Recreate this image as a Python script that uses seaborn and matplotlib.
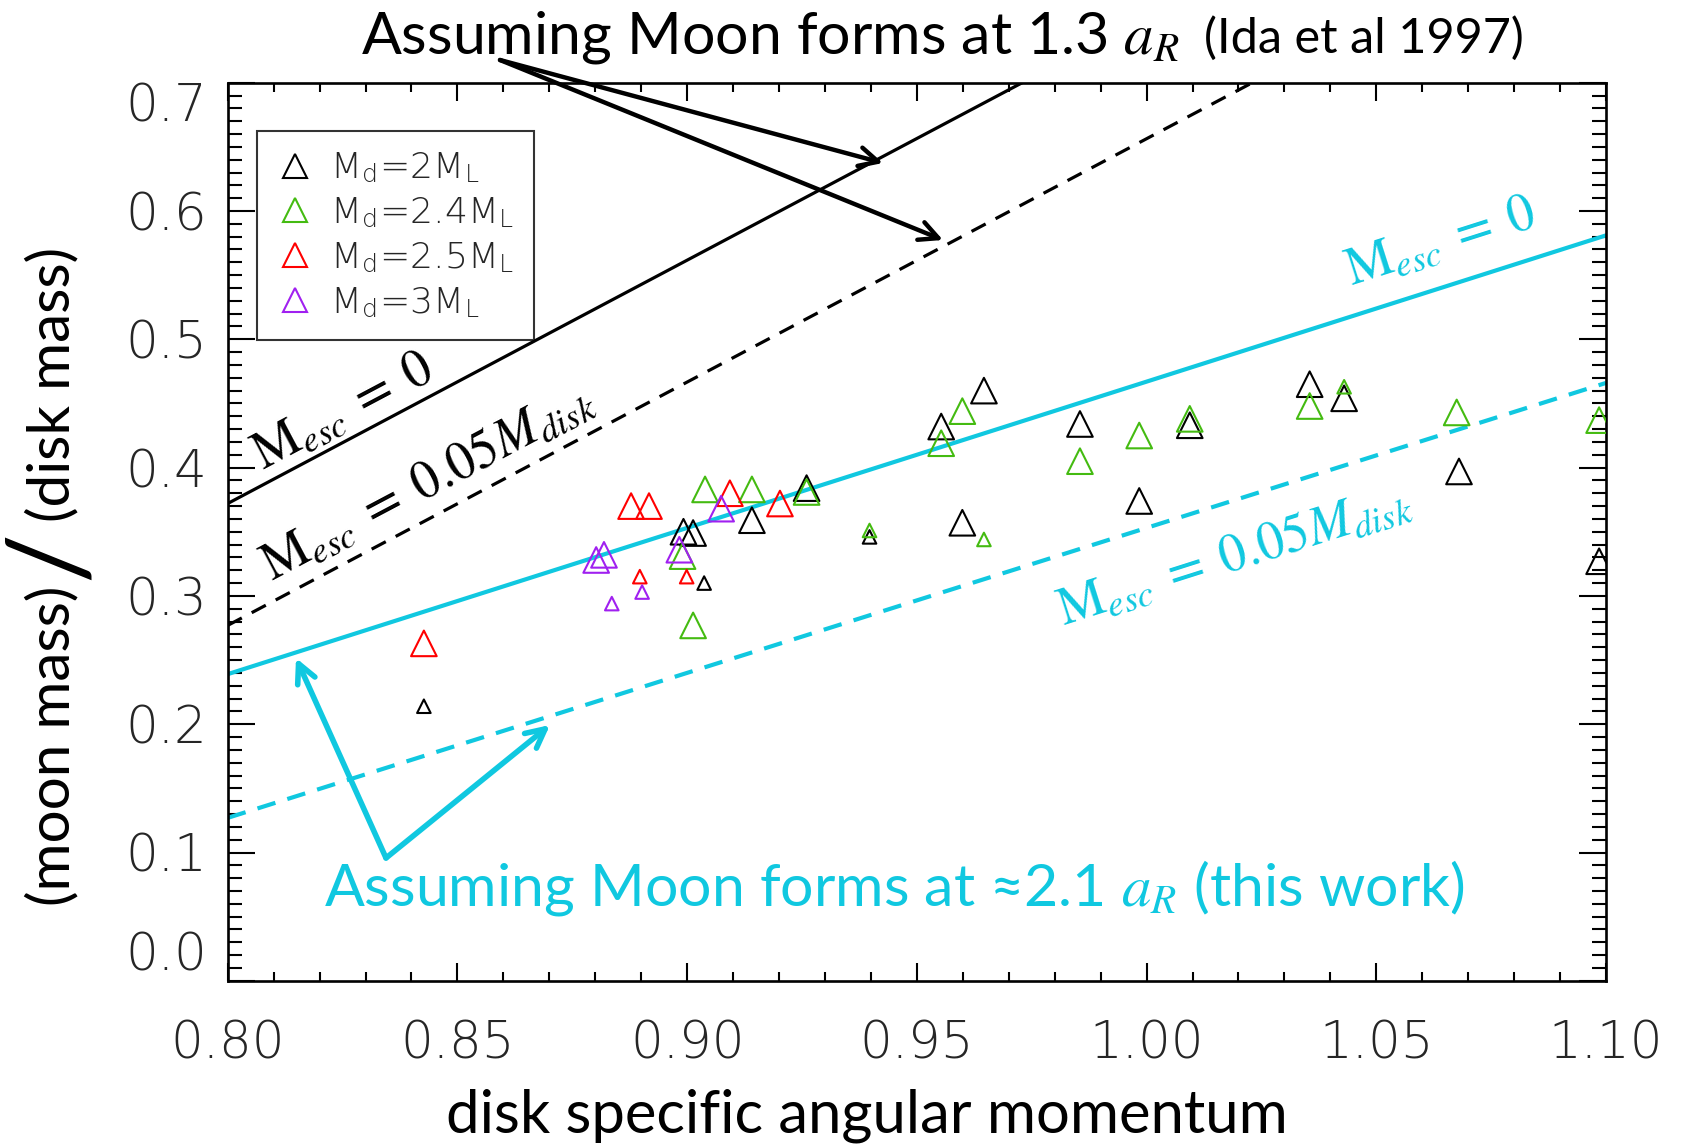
import numpy as np
import pandas as pd
import matplotlib
matplotlib.use("Agg")
import matplotlib.pyplot as plt
from matplotlib.lines import Line2D
from matplotlib.ticker import MultipleLocator
import seaborn as sns

# ---------------- data ----------------
groups = ["2ML", "2.4ML", "2.5ML", "3ML"]
legend_labels = [r"M$_{\mathregular{d}}$=2M$_{\mathregular{L}}$",
                 r"M$_{\mathregular{d}}$=2.4M$_{\mathregular{L}}$",
                 r"M$_{\mathregular{d}}$=2.5M$_{\mathregular{L}}$",
                 r"M$_{\mathregular{d}}$=3M$_{\mathregular{L}}$"]
group_colors = ["#000000", "#44BB11", "#FF0000", "#A020F0"]

x_2ML = [0.8992, 0.9013, 0.9141, 0.9260, 0.9553, 0.9599, 0.9646, 0.9855, 0.9984,
         1.0094, 1.0355, 1.0430, 1.0680, 1.0985, 0.8427, 0.9037, 0.9397]
y_2ML = [0.350, 0.349, 0.359, 0.384, 0.432, 0.357, 0.460, 0.434, 0.374,
         0.433, 0.465, 0.454, 0.397, 0.327, 0.214, 0.310, 0.346]
s_2ML = ["large", "large", "large", "large", "large", "large", "large", "large", "large",
         "large", "large", "large", "large", "large", "small", "small", "small"]

x_24ML = [0.8990, 0.9013, 0.9039, 0.9141, 0.9260, 0.9553, 0.9599, 0.9855, 0.9984,
          1.0094, 1.0355, 1.0675, 1.0985, 0.9397, 0.9646, 1.0430]
y_24ML = [0.331, 0.277, 0.383, 0.383, 0.381, 0.419, 0.444, 0.405, 0.425,
          0.438, 0.448, 0.443, 0.437, 0.351, 0.344, 0.463]
s_24ML = ["large", "large", "large", "large", "large", "large", "large", "large", "large",
          "large", "large", "large", "large", "small", "small", "small"]

x_25ML = [0.8427, 0.8878, 0.8917, 0.9093, 0.9202, 0.8897, 0.8999]
y_25ML = [0.263, 0.370, 0.370, 0.380, 0.372, 0.315, 0.315]
s_25ML = ["large", "large", "large", "large", "large", "small", "small"]

x_3ML = [0.8802, 0.8819, 0.8983, 0.9074, 0.8836, 0.8902]
y_3ML = [0.328, 0.332, 0.336, 0.368, 0.294, 0.303]
s_3ML = ["large", "large", "large", "large", "small", "small"]

# model lines (values at x = 0.80 and x = 1.10)
line_x = [0.80, 1.10]
ida_mesc0 = [0.372, 0.941]
ida_mesc005 = [0.277, 0.846]
this_mesc0 = [0.239, 0.581]
this_mesc005 = [0.127, 0.466]

xticks = [0.80, 0.85, 0.90, 0.95, 1.00, 1.05, 1.10]
xticklabels = ["0.80", "0.85", "0.90", "0.95", "1.00", "1.05", "1.10"]
yticks = [0.0, 0.1, 0.2, 0.3, 0.4, 0.5, 0.6, 0.7]
yticklabels = ["0.0", "0.1", "0.2", "0.3", "0.4", "0.5", "0.6", "0.7"]

# ---------------- style ----------------
sns.set_style("ticks")
plt.rcParams["font.family"] = ["Lato", "DejaVu Sans"]
plt.rcParams["mathtext.fontset"] = "stix"

CYAN = "#10C8E0"
W, H = 1682, 1146
fig = plt.figure(figsize=(W / 100, H / 100), dpi=100)
ax = fig.add_axes([227.7 / W, 1 - 980.8 / H, (1606 - 227.7) / W, (980.8 - 82.7) / H])

df = pd.concat([
    pd.DataFrame({"j": x_2ML, "r": y_2ML, "group": "2ML", "size": s_2ML}),
    pd.DataFrame({"j": x_24ML, "r": y_24ML, "group": "2.4ML", "size": s_24ML}),
    pd.DataFrame({"j": x_25ML, "r": y_25ML, "group": "2.5ML", "size": s_25ML}),
    pd.DataFrame({"j": x_3ML, "r": y_3ML, "group": "3ML", "size": s_3ML}),
], ignore_index=True)

# lines
ax.plot(line_x, ida_mesc0, color="black", lw=2.3, zorder=2)
ax.plot(line_x, ida_mesc005, color="black", lw=2.3, ls=(0, (5, 3.5)), zorder=2)
ax.plot(line_x, this_mesc0, color=CYAN, lw=3.0, zorder=2)
ax.plot(line_x, this_mesc005, color=CYAN, lw=3.0, ls=(0, (4.5, 3)), zorder=2)

sns.scatterplot(data=df, x="j", y="r", hue="group", hue_order=groups,
                palette=dict(zip(groups, group_colors)), size="size",
                sizes={"large": 340, "small": 95}, marker="^", linewidth=1.5,
                legend=False, ax=ax, zorder=3)
coll = ax.collections[-1]
fcs = coll.get_facecolors()
coll.set_edgecolors(fcs)
coll.set_facecolors("none")

ax.set_xlim(0.80, 1.10)
ax.set_ylim(0.0, 0.7)
ax.set_xlabel("")
ax.set_ylabel("")
ax.set_xticks(xticks)
ax.set_xticklabels(xticklabels)
ax.set_yticks(yticks)
ax.set_yticklabels(yticklabels)
ax.xaxis.set_minor_locator(MultipleLocator(0.01))
ax.yaxis.set_minor_locator(MultipleLocator(0.01))
for sp in ax.spines.values():
    sp.set_linewidth(1.9)
    sp.set_color("black")
ax.tick_params(which="both", direction="in", top=True, right=True, width=1.5, color="black")
ax.tick_params(axis="x", which="major", length=13, pad=28)
ax.tick_params(axis="x", which="minor", length=6.5)
ax.tick_params(axis="y", which="major", length=19.5, pad=15)
ax.tick_params(axis="y", which="minor", length=10)
for lbl in ax.get_xticklabels() + ax.get_yticklabels():
    lbl.set_fontfamily("DejaVu Sans")
    lbl.set_fontweight("light")
    lbl.set_fontsize(37)
yt = ax.yaxis.get_major_ticks()
yt[0].label1.set_va("bottom")
yt[-1].label1.set_va("top")

# legend
handles = [Line2D([0], [0], marker="^", ls="none", markersize=17, markerfacecolor="none",
                  markeredgecolor=c, markeredgewidth=1.5) for c in group_colors]
leg = ax.legend(handles, legend_labels, loc="upper left", bbox_to_anchor=(0.0216, 0.946),
                borderaxespad=0, frameon=True, fancybox=False, edgecolor="black",
                prop={"family": "DejaVu Sans", "weight": "light", "size": 26},
                handlelength=1.0, handletextpad=0.45, borderpad=0.55, labelspacing=0.3)
leg.get_frame().set_linewidth(1.5)

# line labels
def line_angle(xs, ys):
    p = ax.transData.transform(np.column_stack([xs, ys]))
    return np.degrees(np.arctan2(p[1, 1] - p[0, 1], p[1, 0] - p[0, 0]))

a_black = line_angle(line_x, ida_mesc0)
a_cyan = line_angle(line_x, this_mesc0)
fs_m = 38
ax.text(0.8251, 0.4440, r"$\mathrm{M}_{esc}\;=\;0$", rotation=a_black, rotation_mode="anchor",
        ha="center", va="center", fontsize=fs_m, color="black")
ax.text(0.8435, 0.3890, r"$\mathrm{M}_{esc}\;=\;0.05M_{disk}$", rotation=a_black,
        rotation_mode="anchor", ha="center", va="center", fontsize=fs_m, color="black")
ax.text(1.0640, 0.5760, r"$\mathrm{M}_{esc}\;=\;0$", rotation=a_cyan, rotation_mode="anchor",
        ha="center", va="center", fontsize=fs_m, color=CYAN)
ax.text(1.0190, 0.3320, r"$\mathrm{M}_{esc}\;=\;0.05M_{disk}$", rotation=a_cyan,
        rotation_mode="anchor", ha="center", va="center", fontsize=fs_m, color=CYAN)

def fx(px):
    return px / W

def fy(py):
    return 1 - py / H

# titles / annotations
t1 = fig.text(fx(361), fy(53), r"Assuming Moon forms at 1.3 $a_R$", ha="left",
              va="baseline", fontsize=42.5, color="black")
fig.canvas.draw()
bb = t1.get_window_extent()
fig.text((bb.x1 + 24) / W, fy(53), "(Ida et al 1997)", ha="left", va="baseline",
         fontsize=35, color="black")

fig.text(fx(894), fy(906), r"Assuming Moon forms at ≈2.1 $a_R$ (this work)",
         ha="center", va="baseline", fontsize=42.5, color=CYAN)

fig.text(fx(867), fy(1116), "disk specific angular momentum", ha="center", va="center",
         fontsize=43, color="black")

# y label with large slash
fig.text(fx(52), fy(555), "/", rotation=90, ha="center", va="center", fontsize=80,
         color="black")
fig.text(fx(53), fy(586), "(moon mass)", rotation=90, ha="center", va="top", fontsize=42,
         color="black")
fig.text(fx(53), fy(522), "(disk mass)", rotation=90, ha="center", va="bottom", fontsize=42,
         color="black")

# arrows
def arrow(start, end, color, lw):
    ax.annotate("", xy=(fx(end[0]), fy(end[1])), xytext=(fx(start[0]), fy(start[1])),
                xycoords="figure fraction", textcoords="figure fraction",
                arrowprops=dict(arrowstyle="->", lw=lw, color=color, mutation_scale=34,
                                shrinkA=0, shrinkB=0),
                annotation_clip=False, zorder=5)

arrow((500, 60), (883, 163), "black", 3.2)
arrow((500, 60), (943, 240), "black", 3.2)
arrow((386, 858), (296, 658), CYAN, 4.0)
arrow((386, 858), (550, 725), CYAN, 4.0)

fig.savefig("out.png", dpi=100)
